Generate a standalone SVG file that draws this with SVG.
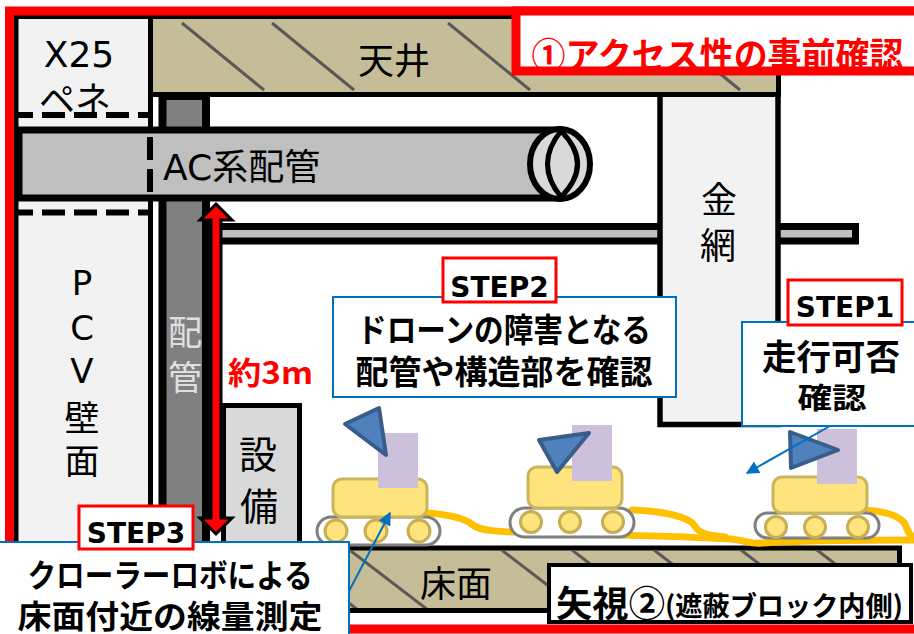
<svg xmlns="http://www.w3.org/2000/svg" width="914" height="634" viewBox="0 0 914 634">
  <style>
    .jp{font-family:"Noto Sans CJK JP",sans-serif}
    .lat{font-family:"DejaVu Sans","Noto Sans CJK JP",sans-serif}
    .b{font-weight:700}
    .c{text-anchor:middle;dominant-baseline:central}
    .tan{fill:#c4bd97;stroke:#000;stroke-width:5}
    .hatch{stroke:#595959;stroke-width:3}
    .step{fill:#fff;stroke:#ff0000;stroke-width:3}
    .note{fill:#fff;stroke:#0070c0;stroke-width:2}
    .body{fill:#ffe37c;stroke:#c9b55e;stroke-width:3}
    .track{fill:#fff;stroke:#7f7f7f;stroke-width:3}
    .wheel{fill:#ffe37c;stroke:#c6ae55;stroke-width:3}
    .cam{fill:#ccc0da}
    .tri{fill:#4f81bd;stroke:#385d8a;stroke-width:4;stroke-linejoin:round}
    .orange{fill:none;stroke:#ffc000;stroke-width:7;stroke-linecap:round}
    .lead{stroke:#0070c0;stroke-width:2;fill:none}
    .dash{stroke:#000;stroke-width:6;stroke-dasharray:23 9}
  </style>
  <defs>
    <clipPath id="ceilClip"><rect x="153" y="19" width="623" height="73"/></clipPath>
    <clipPath id="floorClip"><rect x="300" y="550.5" width="597" height="57.5"/></clipPath>
    <marker id="ah" viewBox="0 0 10 10" refX="9" refY="5" markerWidth="7.5" markerHeight="6.5" orient="auto">
      <path d="M0,0 L10,5 L0,10 z" fill="#0070c0"/>
    </marker>
  </defs>

  <rect width="914" height="634" fill="#fff"/>

  <!-- PCV wall with X25 penetration -->
  <g id="pcv-wall">
    <rect x="16" y="16.5" width="134.5" height="545" fill="#f2f2f2" stroke="#000" stroke-width="5"/>
    <line x1="17" y1="115" x2="148" y2="115" class="dash" stroke-dashoffset="7"/>
    <line x1="17" y1="212.5" x2="148" y2="212.5" class="dash" stroke-dashoffset="7"/>
    <text x="79" y="67" class="lat" font-size="36" text-anchor="middle">X25</text>
    <text x="75" y="97" class="jp c" font-size="36">ペネ</text>
    <text x="82" y="295" class="lat" font-size="34" text-anchor="middle">P</text>
    <text x="82" y="340" class="lat" font-size="34" text-anchor="middle">C</text>
    <text x="82" y="383" class="lat" font-size="34" text-anchor="middle">V</text>
    <text x="82" y="415" class="jp c" font-size="35">壁</text>
    <text x="82" y="458" class="jp c" font-size="35">面</text>
  </g>

  <!-- vertical piping column -->
  <g id="pipe-column">
    <rect x="162.5" y="96" width="43.5" height="465" fill="#808080" stroke="#000" stroke-width="8"/>
    <text x="185" y="330" class="jp c" font-size="34" fill="#e0e0e0">配</text>
    <text x="185" y="375" class="jp c" font-size="34" fill="#e0e0e0">管</text>
  </g>

  <!-- thin horizontal pipe -->
  <g id="thin-pipe">
    <rect x="215" y="226.5" width="640.5" height="14.5" fill="#bfbfbf" stroke="#000" stroke-width="7"/>
  </g>

  <!-- wire mesh -->
  <g id="wire-mesh">
    <rect x="660" y="94" width="118" height="330.5" fill="#f2f2f2" stroke="#000" stroke-width="5.5"/>
    <text x="719" y="197" class="jp c" font-size="36">金</text>
    <text x="718" y="243" class="jp c" font-size="36">網</text>
  </g>

  <!-- ceiling -->
  <g id="ceiling">
    <rect x="150.5" y="16.5" width="628" height="78" class="tan"/>
    <g clip-path="url(#ceilClip)" class="hatch">
      <line x1="182" y1="23" x2="264" y2="90"/>
      <line x1="272" y1="23" x2="354" y2="90"/>
      <line x1="448" y1="23" x2="530" y2="90"/>
      <line x1="658" y1="23" x2="740" y2="90"/>
    </g>
    <text x="394" y="58" class="jp c" font-size="36">天井</text>
  </g>

  <!-- equipment -->
  <g id="equipment">
    <rect x="223.5" y="405.5" width="76" height="150" fill="#d9d9d9" stroke="#000" stroke-width="5"/>
    <text x="258" y="451" class="jp c" font-size="38">設</text>
    <text x="259" y="503" class="jp c" font-size="38">備</text>
  </g>

  <!-- AC piping through the penetration -->
  <g id="ac-pipe">
    <rect x="19" y="130" width="541" height="68" fill="#bfbfbf" stroke="#000" stroke-width="7"/>
    <line x1="150" y1="137" x2="150" y2="195" class="dash" stroke-width="5"/>
    <ellipse cx="560" cy="164" rx="30" ry="35" fill="#d9d9d9" stroke="#000" stroke-width="6"/>
    <path d="M561,131 Q534,164 561,197 M561,131 Q594,164 561,197" fill="none" stroke="#000" stroke-width="5"/>
    <text x="163" y="180" class="lat" font-size="36">AC<tspan class="jp">系配管</tspan></text>
  </g>

  <!-- floor -->
  <g id="floor">
    <rect x="300" y="548" width="599.5" height="62.5" class="tan"/>
    <g clip-path="url(#floorClip)" class="hatch">
      <line x1="277" y1="548" x2="358" y2="610"/>
      <line x1="347" y1="548" x2="428" y2="610"/>
      <line x1="495" y1="545" x2="576" y2="607"/>
      <line x1="568" y1="547" x2="649" y2="609"/>
      <line x1="650" y1="547" x2="731" y2="609"/>
      <line x1="737" y1="547" x2="818" y2="609"/>
      <line x1="813" y1="547" x2="894" y2="609"/>
    </g>
    <text x="456" y="581" class="jp c" font-size="36">床面</text>
  </g>

  <!-- uneven ground / debris line -->
  <g id="debris">
    <path class="orange" d="M410,512 C445,513 465,518 473,525 C480,531 500,532 540,533 C600,535 680,536 730,539 C745,540 752,545 762,543 C790,541 850,540 914,540"/>
    <path class="orange" d="M632,510 C665,511 688,517 694,525 C699,533 705,535 725,537"/>
    <path class="orange" d="M862,510 C885,511 900,516 905,524 C908,532 910,536 914,537"/>
  </g>

  <!-- crawler robots -->
  <g id="robot-1">
    <rect x="317" y="517" width="123" height="28" rx="14" class="track"/>
    <circle cx="336" cy="531" r="11" class="wheel"/>
    <circle cx="376" cy="531" r="11" class="wheel"/>
    <circle cx="419" cy="531" r="11" class="wheel"/>
    <rect x="333" y="479" width="94" height="38" rx="9" class="body"/>
    <rect x="378" y="433" width="40" height="55" class="cam"/>
    <polygon points="345,424 379,408 386,455" class="tri"/>
  </g>
  <g id="robot-2">
    <rect x="510" y="508" width="124" height="29" rx="14.5" class="track"/>
    <circle cx="531" cy="522" r="10.5" class="wheel"/>
    <circle cx="570" cy="522" r="10.5" class="wheel"/>
    <circle cx="613" cy="522" r="10.5" class="wheel"/>
    <rect x="528" y="467" width="94" height="41" rx="9" class="body"/>
    <rect x="572" y="425" width="40" height="56" class="cam"/>
    <polygon points="539,440 589,433 557,472" class="tri"/>
  </g>
  <g id="robot-3">
    <rect x="755" y="513" width="124" height="25" rx="12.5" class="track"/>
    <circle cx="776" cy="527" r="10.5" class="wheel"/>
    <circle cx="815" cy="527" r="10.5" class="wheel"/>
    <circle cx="858" cy="527" r="10.5" class="wheel"/>
    <rect x="773" y="477" width="94" height="36" rx="9" class="body"/>
    <rect x="817" y="429" width="40" height="55" class="cam"/>
    <polygon points="790,432 838,450 791,468" class="tri"/>
  </g>

  <!-- access-check frame and title -->
  <g id="title">
    <rect x="9.5" y="11" width="1000" height="618" fill="none" stroke="#ff0000" stroke-width="9"/>
    <rect x="516" y="11" width="500" height="60" fill="#fff" stroke="#ff0000" stroke-width="9"/>
    <text x="717.5" y="53" class="jp b c" font-size="36" fill="#ff0000" textLength="372" lengthAdjust="spacingAndGlyphs">①アクセス性の事前確認</text>
  </g>

  <!-- connectors -->
  <g id="connectors">
    <polygon points="216,204 232,220 221,220 221,518 232,518 216,534 200,518 211,518 211,220 200,220" fill="#ff0000" stroke="#000" stroke-width="3"/>
    <line x1="830" y1="426" x2="747" y2="473" class="lead" marker-end="url(#ah)"/>
    <line x1="348" y1="593" x2="390" y2="513" class="lead" marker-end="url(#ah)"/>
  </g>

  <g id="height-label">
    <text x="228" y="384" class="jp b" font-size="31" fill="#ff0000" textLength="85" lengthAdjust="spacingAndGlyphs">約3m</text>
  </g>

  <!-- STEP2 -->
  <g id="step2">
    <rect x="333" y="297" width="343" height="100" class="note"/>
    <text x="504" y="328" class="jp b c" font-size="33" textLength="294" lengthAdjust="spacingAndGlyphs">ドローンの障害となる</text>
    <text x="504" y="370" class="jp b c" font-size="33" textLength="297" lengthAdjust="spacingAndGlyphs">配管や構造部を確認</text>
    <rect x="443" y="258" width="113" height="44" class="step"/>
    <text x="499.5" y="297" class="lat b" font-size="28" text-anchor="middle">STEP2</text>
  </g>

  <!-- STEP1 -->
  <g id="step1">
    <rect x="742" y="322" width="200" height="104" class="note"/>
    <text x="831" y="354" class="jp b c" font-size="35" textLength="138" lengthAdjust="spacingAndGlyphs">走行可否</text>
    <text x="832" y="396" class="jp b c" font-size="29" textLength="69" lengthAdjust="spacingAndGlyphs">確認</text>
    <rect x="788" y="280" width="114" height="45" class="step"/>
    <text x="845" y="317" class="lat b" font-size="28" text-anchor="middle">STEP1</text>
  </g>

  <!-- STEP3 -->
  <g id="step3">
    <rect x="-10" y="542" width="359" height="110" class="note"/>
    <text x="170" y="573" class="jp b c" font-size="32" textLength="285" lengthAdjust="spacingAndGlyphs">クローラーロボによる</text>
    <text x="170" y="614" class="jp b c" font-size="32" textLength="305" lengthAdjust="spacingAndGlyphs">床面付近の線量測定</text>
    <rect x="79" y="506" width="114" height="43" class="step"/>
    <text x="136" y="543" class="lat b" font-size="28" text-anchor="middle">STEP3</text>
  </g>

  <!-- view direction 2 -->
  <g id="view-2">
    <rect x="549" y="565" width="362" height="57" fill="#fff" stroke="#000" stroke-width="4"/>
    <text x="556" y="601" class="jp b" dominant-baseline="central" font-size="36" textLength="109" lengthAdjust="spacingAndGlyphs">矢視②</text>
    <text x="665" y="604" class="jp b" dominant-baseline="central" font-size="27" textLength="238" lengthAdjust="spacingAndGlyphs">(遮蔽ブロック内側)</text>
  </g>
</svg>
